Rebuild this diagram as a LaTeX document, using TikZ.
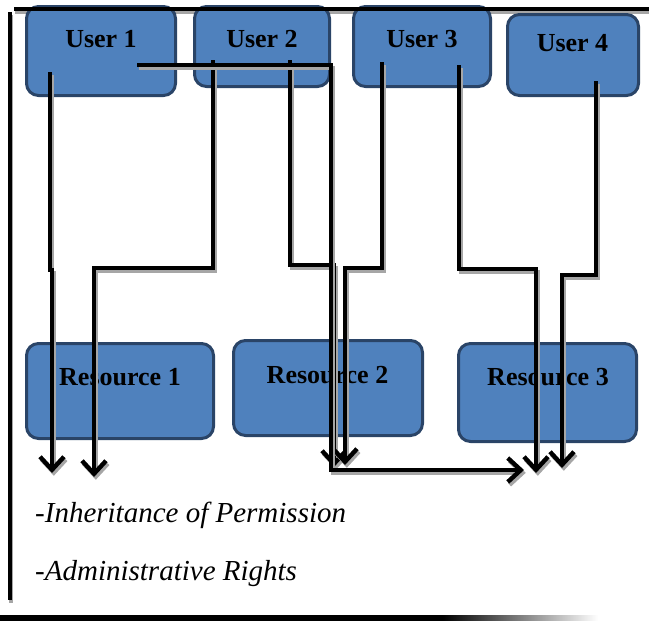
\documentclass[tikz,border=0pt]{standalone}
\usepackage{fontspec}
\setmainfont{Liberation Serif}
\usetikzlibrary{arrows.meta}

\definecolor{boxfill}{HTML}{4F81BD}
\definecolor{boxedge}{HTML}{2A4467}
\definecolor{shadowgray}{HTML}{A6A6A6}

% bottom rule: solid black that fades out towards the right
% (the filled path spans 25bp..75bp of the shading)
\pgfdeclarehorizontalshading{rulefade}{100bp}{color(0bp)=(black); color(25bp)=(black); color(62bp)=(black); color(75bp)=(white); color(100bp)=(white)}

\tikzset{
  entity/.style={draw=boxedge, fill=boxfill, line width=3pt, rounded corners=12pt, inner sep=0pt},
  title/.style={font=\bfseries\fontsize{26}{30}\selectfont, inner sep=0pt, anchor=base},
  note/.style={font=\itshape\fontsize{29}{34}\selectfont, inner sep=0pt, anchor=base west},
  link/.style={line width=4.4pt, draw=black, -{Straight Barb[length=13pt,width=24pt]}},
  rule/.style={line width=4pt, draw=black},
  dropshadow/.style={transform canvas={shift={(1.8pt,-2.8pt)}}}
}

% draws a path once as a grey drop shadow, then in black on top
\newcommand\shadowedlink[1]{%
  \begin{scope}[dropshadow]\draw[link, draw=shadowgray] #1;\end{scope}%
  \draw[link] #1;}

\begin{document}
\begin{tikzpicture}[x=1pt, y=-1pt]
\useasboundingbox (0,0) rectangle (649,621);

% frame: top rule shadow sits behind the boxes
\draw[draw=shadowgray, line width=4pt] (15,12) -- (649,12);

% users
\node[entity, minimum width=149pt, minimum height=89pt] (u1) at (101,51) {};
\node[entity, minimum width=135pt, minimum height=80pt] (u2) at (262,46.5) {};
\node[entity, minimum width=137pt, minimum height=80pt] (u3) at (422,46.5) {};
\node[entity, minimum width=131pt, minimum height=81pt] (u4) at (573,55) {};

% resources
\node[entity, minimum width=187pt, minimum height=95pt] (r1) at (120,391) {};
\node[entity, minimum width=189pt, minimum height=95pt] (r2) at (328,388) {};
\node[entity, minimum width=178pt, minimum height=98pt] (r3) at (547.5,392.5) {};

% labels
\node[title] (u1t) at (101,47) {User 1};
\node[title] (u2t) at (262,47) {User 2};
\node[title] (u3t) at (422,47) {User 3};
\node[title] (u4t) at (572.5,52) {User 4};
\node[title] (r1t) at (120,385) {Resource 1};
\node[title] (r2t) at (327.5,383) {Resource 2};
\node[title] (r3t) at (548,385) {Resource 3};

% frame rules
\draw[rule] (14,8.5) -- (649,8.5);
\begin{scope}[dropshadow]\draw[rule, draw=shadowgray] (9.5,12) -- (9.5,600);\end{scope}
\draw[rule] (9.5,12) -- (9.5,600);
\shade[shading=rulefade] (0,615.5) rectangle (598,621);

% connector end points
\coordinate (a1) at (50,72);   \coordinate (a2) at (50,270);  \coordinate (a3) at (52,270);  \coordinate (a4) at (52,473);
\coordinate (b1) at (213,60);  \coordinate (b2) at (213,268); \coordinate (b3) at (94,268);  \coordinate (b4) at (94,477);
\coordinate (c1) at (137,65);  \coordinate (c2) at (331,65);  \coordinate (c3) at (331,470); \coordinate (c4) at (524,470);
\coordinate (d1) at (290,60);  \coordinate (d2) at (290,265); \coordinate (d3) at (334,265); \coordinate (d4) at (334,467);
\coordinate (e1) at (382,62);  \coordinate (e2) at (382,268); \coordinate (e3) at (345,268); \coordinate (e4) at (345,465);
\coordinate (f1) at (459,65);  \coordinate (f2) at (459,269); \coordinate (f3) at (536,269); \coordinate (f4) at (536,473);
\coordinate (g1) at (596,81);  \coordinate (g2) at (596,275); \coordinate (g3) at (562,275); \coordinate (g4) at (562,468);

% permission connectors
\shadowedlink{(a1) -- (a2) -- (a3) -- (a4)}
\shadowedlink{(b1) -- (b2) -- (b3) -- (b4)}
\shadowedlink{(d1) -- (d2) -- (d3) -- (d4)}
\shadowedlink{(e1) -- (e2) -- (e3) -- (e4)}
\shadowedlink{(c1) -- (c2) -- (c3) -- (c4)}
\shadowedlink{(f1) -- (f2) -- (f3) -- (f4)}
\shadowedlink{(g1) -- (g2) -- (g3) -- (g4)}

% notes
\node[note] (n1) at (35,522) {-Inheritance of Permission};
\node[note] (n2) at (35,580) {-Administrative Rights};
\end{tikzpicture}
\end{document}
